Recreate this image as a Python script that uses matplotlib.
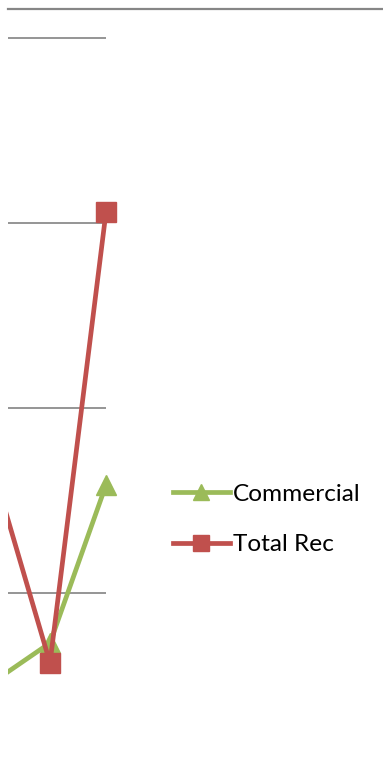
import matplotlib
matplotlib.use("Agg")
import matplotlib.pyplot as plt
from matplotlib.patches import Rectangle
from matplotlib.lines import Line2D

categories = [0, 1, 2]
commercial = [522, 730, 1584]
total_rec = [1654, 622, 3059]
grid_values = [1000, 2000, 3000, 4000]

W, H = 383, 768
fig = plt.figure(figsize=(W / 100, H / 100), dpi=100)
ax = fig.add_axes([8 / W, 0, (106 - 8) / W, 1])
ax.set_xlim(0.25, 2.0)
ax.set_ylim(54.05, 4205.4)
ax.axis("off")

for g in grid_values:
    ax.axhline(g, color="#8c8c8c", lw=1.3, zorder=1)

green = "#9BBB59"
red = "#C0504D"
clip = Rectangle((8 / W, 0), 1, 1, transform=fig.transFigure, visible=False)
fig.add_artist(clip)

l1, = ax.plot(categories, commercial, color=green, lw=3.4, marker="^", ms=14,
              label="Commercial", zorder=3, clip_on=True)
l2, = ax.plot(categories, total_rec, color=red, lw=3.4, marker="s", ms=14,
              label="Total Rec", zorder=4, clip_on=True)
for l in (l1, l2):
    l.set_clip_path(clip)

# top border line
fig.add_artist(Line2D([8 / W, 1], [1 - 8.5 / H, 1 - 8.5 / H], transform=fig.transFigure,
                      color="#868686", lw=1.6))

h1 = Line2D([], [], color=green, lw=3.4, marker="^", ms=12)
h2 = Line2D([], [], color=red, lw=3.4, marker="s", ms=12)
leg = fig.legend(handles=[h1, h2], labels=["Commercial", "Total Rec"], loc="center left",
                 bbox_to_anchor=(173 / W, 1 - 519.5 / H), frameon=False,
                 prop={"family": "Lato", "size": 17.6}, handlelength=2.33,
                 handletextpad=0.12, labelspacing=1.2, borderpad=0, borderaxespad=0)

fig.savefig("out.png", dpi=100)
